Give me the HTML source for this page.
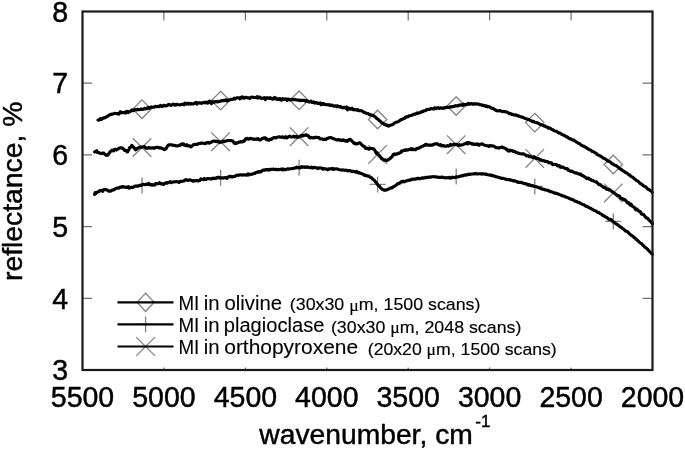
<!DOCTYPE html>
<html><head><meta charset="utf-8"><style>
html,body{margin:0;padding:0;background:#fff;width:685px;height:449px;overflow:hidden}
svg{display:block;will-change:transform;font-family:"Liberation Sans",sans-serif}
</style></head><body>
<svg width="685" height="449" viewBox="0 0 685 449">
<rect width="685" height="449" fill="#fff"/>
<path d="M82.5,83.2 L92.0,83.2 M652.5,83.2 L642.5,83.2 M82.5,154.9 L92.0,154.9 M652.5,154.9 L642.5,154.9 M82.5,226.6 L92.0,226.6 M652.5,226.6 L642.5,226.6 M82.5,298.3 L92.0,298.3 M652.5,298.3 L642.5,298.3 M163.9,11.5 L163.9,20.5 M163.9,370.0 L163.9,367.5 M245.4,11.5 L245.4,20.5 M245.4,370.0 L245.4,367.5 M326.8,11.5 L326.8,20.5 M326.8,370.0 L326.8,367.5 M408.2,11.5 L408.2,20.5 M408.2,370.0 L408.2,367.5 M489.6,11.5 L489.6,20.5 M489.6,370.0 L489.6,367.5 M571.1,11.5 L571.1,20.5 M571.1,370.0 L571.1,367.5" stroke="#707070" stroke-width="1.2" fill="none"/>
<path d="M142.0,99.9 L151.2,109.2 L142.0,118.5 L132.8,109.2 Z M220.6,91.3 L229.8,100.6 L220.6,109.9 L211.4,100.6 Z M299.1,91.0 L308.3,100.3 L299.1,109.6 L289.9,100.3 Z M377.6,110.2 L386.8,119.5 L377.6,128.8 L368.4,119.5 Z M456.2,96.7 L465.4,106.0 L456.2,115.3 L447.0,106.0 Z M534.8,113.3 L544.0,122.6 L534.8,131.9 L525.5,122.6 Z M613.3,155.2 L622.5,164.5 L613.3,173.8 L604.1,164.5 Z M132.7,138.2 L151.3,156.8 M132.7,156.8 L151.3,138.2 M211.2,132.4 L229.9,151.0 M211.2,151.0 L229.9,132.4 M289.8,127.4 L308.4,146.0 M289.8,146.0 L308.4,127.4 M368.3,145.1 L386.9,163.7 M368.3,163.7 L386.9,145.1 M446.9,135.4 L465.5,154.0 M446.9,154.0 L465.5,135.4 M525.5,149.1 L544.0,167.7 M525.5,167.7 L544.0,149.1 M604.0,183.6 L622.6,202.2 M604.0,202.2 L622.6,183.6 M142.0,177.4 L142.0,193.4 M134.0,185.4 L150.0,185.4 M220.6,169.8 L220.6,185.8 M212.6,177.8 L228.6,177.8 M299.1,159.7 L299.1,175.7 M291.1,167.7 L307.1,167.7 M377.6,176.4 L377.6,192.4 M369.6,184.4 L385.6,184.4 M456.2,168.5 L456.2,184.5 M448.2,176.5 L464.2,176.5 M534.8,178.4 L534.8,194.4 M526.8,186.4 L542.8,186.4 M613.3,213.4 L613.3,229.4 M605.3,221.4 L621.3,221.4" fill="none" stroke="#838383" stroke-width="1.3"/>
<path d="M98.0,120.04 L98.6,120.19 L99.4,119.75 L100.3,118.61 L101.4,119.36 L102.5,118.73 L103.6,117.82 L104.6,117.94 L105.5,117.45 L106.4,116.96 L107.3,116.33 L108.2,116.08 L109.1,114.94 L110.1,114.77 L111.0,114.21 L111.9,114.43 L112.8,113.93 L113.7,113.62 L114.6,113.28 L115.6,113.50 L116.5,113.60 L117.4,113.42 L118.3,114.14 L119.2,113.89 L120.1,111.89 L121.0,112.13 L121.9,112.80 L122.8,112.49 L123.8,112.60 L124.7,112.40 L125.6,113.15 L126.5,111.34 L127.4,111.52 L128.3,112.54 L129.2,111.64 L130.2,111.46 L131.1,110.68 L132.0,109.93 L132.9,110.66 L133.8,110.46 L134.7,109.64 L135.6,109.76 L136.5,109.93 L137.5,109.37 L138.4,109.66 L139.3,109.63 L140.2,109.46 L141.1,109.04 L142.0,109.44 L142.9,109.43 L143.8,108.98 L144.8,108.25 L145.7,108.86 L146.6,108.07 L147.5,108.60 L148.4,107.47 L149.3,108.30 L150.2,107.68 L151.1,106.91 L152.1,107.23 L153.0,107.26 L153.9,107.22 L154.8,106.45 L155.7,106.25 L156.6,106.77 L157.5,106.30 L158.4,106.52 L159.3,106.66 L160.3,105.33 L161.2,106.16 L162.1,106.53 L163.0,105.65 L163.9,105.28 L164.8,105.95 L165.7,105.60 L166.7,105.81 L167.6,105.09 L168.5,104.43 L169.4,105.03 L170.3,104.78 L171.2,105.32 L172.1,104.97 L173.0,104.01 L174.0,104.18 L174.9,105.17 L175.8,105.03 L176.7,104.33 L177.6,104.60 L178.5,104.78 L179.4,104.74 L180.3,104.90 L181.2,104.55 L182.2,104.32 L183.1,104.19 L184.0,104.79 L184.9,103.07 L185.8,104.05 L186.7,104.06 L187.7,103.24 L188.6,104.02 L189.5,103.44 L190.5,104.10 L191.4,103.52 L192.3,103.84 L193.2,104.04 L194.1,103.55 L195.0,102.86 L196.0,102.48 L196.9,104.06 L197.8,103.06 L198.7,102.72 L199.6,103.07 L200.5,102.84 L201.4,103.30 L202.3,102.83 L203.2,102.75 L204.2,102.32 L205.1,102.85 L206.0,102.04 L206.9,102.84 L207.8,103.21 L208.7,101.65 L209.6,101.14 L210.6,102.64 L211.5,103.56 L212.4,101.73 L213.3,101.55 L214.2,102.39 L215.1,101.58 L216.0,101.64 L216.9,101.60 L217.8,101.91 L218.8,101.31 L219.7,101.51 L220.6,101.15 L221.5,100.68 L222.4,100.81 L223.3,100.37 L224.2,100.72 L225.2,100.02 L226.1,99.90 L227.0,101.04 L227.9,100.13 L228.8,99.97 L229.7,100.06 L230.6,99.40 L231.5,99.28 L232.5,99.38 L233.4,99.09 L234.3,98.17 L235.2,98.98 L236.1,98.12 L237.0,97.76 L237.9,97.73 L238.8,97.90 L239.8,98.84 L240.7,97.38 L241.6,97.99 L242.5,96.79 L243.4,97.80 L244.3,98.19 L245.2,97.55 L246.1,97.30 L247.1,97.67 L248.0,97.85 L248.9,97.79 L249.8,98.41 L250.7,97.51 L251.6,97.10 L252.5,97.34 L253.4,97.38 L254.3,97.50 L255.3,97.46 L256.2,97.60 L257.1,96.72 L258.0,98.02 L258.9,97.36 L259.8,97.12 L260.7,98.09 L261.6,98.49 L262.6,98.15 L263.5,98.05 L264.4,97.57 L265.3,99.54 L266.2,98.60 L267.1,97.66 L268.0,97.90 L268.9,98.39 L269.9,97.64 L270.8,98.56 L271.7,98.31 L272.6,99.21 L273.5,99.14 L274.4,97.37 L275.4,98.81 L276.3,98.05 L277.2,99.47 L278.2,99.07 L279.1,99.32 L280.0,98.57 L280.9,100.07 L281.8,100.22 L282.7,98.72 L283.7,99.49 L284.6,99.02 L285.5,99.39 L286.4,98.82 L287.3,100.43 L288.2,99.06 L289.1,99.45 L290.0,99.89 L291.0,99.36 L291.9,99.62 L292.8,99.51 L293.7,99.78 L294.6,99.32 L295.5,99.74 L296.4,99.92 L297.3,99.92 L298.2,100.18 L299.2,100.08 L300.1,100.68 L301.0,100.24 L301.9,100.44 L302.8,100.29 L303.7,100.49 L304.6,100.27 L305.5,101.31 L306.5,100.64 L307.4,101.00 L308.3,101.72 L309.2,101.90 L310.1,101.67 L311.0,101.04 L311.9,102.43 L312.9,102.54 L313.8,101.88 L314.7,103.15 L315.6,102.58 L316.5,102.53 L317.4,103.30 L318.3,103.30 L319.2,103.63 L320.1,102.86 L321.1,104.71 L322.0,103.63 L322.9,103.30 L323.8,104.51 L324.7,104.16 L325.6,104.63 L326.5,104.43 L327.5,104.70 L328.4,104.98 L329.3,104.63 L330.2,105.49 L331.1,105.07 L332.0,105.04 L332.9,105.70 L333.8,106.07 L334.8,105.93 L335.7,105.81 L336.6,106.74 L337.5,105.74 L338.4,106.28 L339.3,106.98 L340.2,106.44 L341.1,107.28 L342.0,107.38 L343.0,108.01 L343.9,107.24 L344.8,107.54 L345.7,108.17 L346.6,106.93 L347.5,109.87 L348.4,108.13 L349.4,108.27 L350.3,109.23 L351.2,108.95 L352.1,108.24 L353.0,109.61 L353.9,109.89 L354.9,109.41 L355.9,109.67 L356.8,110.22 L357.8,109.71 L358.7,110.56 L359.5,110.62 L360.3,110.50 L361.3,110.60 L362.2,111.29 L363.0,111.44 L363.7,112.36 L364.5,112.44 L365.4,112.97 L366.2,113.12 L367.1,113.49 L368.0,113.52 L368.9,114.30 L369.8,114.97 L370.7,114.66 L371.6,114.90 L372.5,115.41 L373.4,115.76 L374.3,116.21 L375.2,117.04 L376.0,117.55 L376.9,118.73 L377.8,119.00 L378.7,119.86 L379.6,120.89 L380.5,121.37 L381.4,122.71 L382.3,122.81 L383.2,123.40 L384.1,124.13 L384.9,124.73 L385.8,124.78 L386.7,125.49 L387.6,125.17 L388.5,126.15 L389.4,125.67 L390.3,125.35 L391.2,125.03 L392.1,124.80 L393.0,124.31 L393.8,123.45 L394.7,122.87 L395.6,122.54 L396.5,121.97 L397.4,121.98 L398.3,121.61 L399.2,120.85 L400.1,120.54 L401.0,119.52 L401.9,119.62 L402.7,118.92 L403.6,118.59 L404.5,118.48 L405.4,117.04 L406.2,117.42 L407.1,116.64 L408.0,116.77 L409.0,115.81 L409.9,115.71 L410.8,115.56 L411.7,115.33 L412.6,114.82 L413.5,114.24 L414.4,114.03 L415.3,114.17 L416.2,113.63 L417.1,112.87 L417.9,113.38 L418.8,112.97 L419.7,112.82 L420.5,112.14 L421.4,112.16 L422.2,111.25 L423.1,111.39 L424.0,110.71 L424.9,110.71 L425.7,110.47 L426.6,109.64 L427.5,109.57 L428.4,109.35 L429.3,109.48 L430.1,109.15 L431.0,108.41 L431.9,108.78 L432.8,108.74 L433.7,109.05 L434.5,107.82 L435.4,108.09 L436.3,108.59 L437.2,107.74 L438.0,107.76 L438.9,108.24 L439.7,108.37 L440.6,107.82 L441.5,108.14 L442.4,107.96 L443.2,108.30 L444.1,107.76 L445.0,107.97 L445.9,107.29 L446.8,107.40 L447.6,107.31 L448.5,107.55 L449.4,107.26 L450.3,106.73 L451.2,107.02 L452.0,106.91 L452.9,106.51 L453.8,106.32 L454.7,106.20 L455.6,105.61 L456.4,106.02 L457.3,105.88 L458.2,105.39 L459.1,105.72 L459.9,104.92 L460.8,105.01 L461.6,104.87 L462.5,105.46 L463.4,104.23 L464.3,104.73 L465.2,104.72 L466.1,104.44 L466.9,104.60 L467.7,103.87 L468.4,103.43 L469.2,104.30 L470.0,103.66 L470.8,103.88 L471.7,103.58 L472.6,104.21 L473.5,104.12 L474.4,103.63 L475.3,104.12 L476.2,103.91 L477.0,103.91 L477.9,104.09 L478.8,104.17 L479.7,104.62 L480.5,104.76 L481.4,104.81 L482.2,105.45 L483.1,105.18 L484.0,105.63 L484.9,105.84 L485.7,106.32 L486.6,105.90 L487.5,106.80 L488.4,106.60 L489.3,106.83 L490.1,107.08 L491.0,107.90 L491.9,108.22 L492.8,108.36 L493.7,108.83 L494.5,109.43 L495.4,109.77 L496.3,110.58 L497.2,110.88 L498.0,110.86 L498.9,110.80 L499.7,110.64 L500.6,110.85 L501.5,111.20 L502.4,111.71 L503.2,111.52 L504.1,111.38 L505.0,111.71 L505.9,111.84 L506.8,112.03 L507.6,112.51 L508.5,112.91 L509.4,113.68 L510.3,113.42 L511.2,114.08 L512.0,114.47 L512.9,114.23 L513.8,114.95 L514.7,114.96 L515.6,114.90 L516.4,115.40 L517.3,115.62 L518.2,115.85 L519.1,116.15 L519.9,116.56 L520.8,116.90 L521.6,116.93 L522.5,117.41 L523.4,117.41 L524.3,118.09 L525.2,118.48 L526.1,118.71 L526.9,119.02 L527.7,119.37 L528.3,119.36 L529.0,119.70 L530.0,120.23 L530.7,120.61 L531.6,120.81 L532.5,121.60 L533.5,121.45 L534.5,122.07 L535.5,122.53 L536.5,122.65 L537.4,122.87 L538.3,123.17 L539.2,123.82 L540.1,124.39 L541.0,124.62 L542.0,124.99 L542.9,125.28 L543.8,125.87 L544.7,125.73 L545.6,126.60 L546.5,126.97 L547.4,127.10 L548.4,128.22 L549.3,127.92 L550.2,128.41 L551.1,128.80 L552.0,129.69 L552.9,129.72 L553.8,130.47 L554.8,130.89 L555.7,131.26 L556.6,131.39 L557.5,131.97 L558.4,132.88 L559.3,132.74 L560.2,133.29 L561.1,133.88 L562.0,134.53 L563.0,134.89 L563.9,135.45 L564.8,135.56 L565.7,136.44 L566.6,136.84 L567.5,136.89 L568.4,138.00 L569.4,138.64 L570.3,138.52 L571.2,139.18 L572.1,139.94 L573.0,139.87 L573.9,140.26 L574.8,140.91 L575.7,141.56 L576.6,142.07 L577.6,142.81 L578.5,143.26 L579.4,143.47 L580.3,144.35 L581.2,145.14 L582.1,145.52 L583.0,146.01 L583.9,146.34 L584.9,147.06 L585.8,147.20 L586.7,148.07 L587.6,148.44 L588.5,149.23 L589.5,149.65 L590.4,149.90 L591.4,150.71 L592.3,151.48 L593.2,151.55 L594.1,152.18 L594.9,152.62 L595.9,153.07 L596.8,154.12 L597.7,154.71 L598.5,155.10 L599.3,155.45 L600.0,155.83 L600.9,156.43 L601.6,156.67 L602.4,157.46 L603.4,158.12 L604.2,158.58 L605.0,158.82 L606.0,159.54 L607.0,160.11 L608.0,161.14 L609.0,161.46 L610.0,161.67 L611.0,162.74 L611.9,163.66 L612.9,164.04 L613.8,164.71 L614.8,165.17 L615.7,165.41 L616.7,166.08 L617.7,166.85 L618.7,167.75 L619.7,168.52 L620.7,169.27 L621.6,169.73 L622.6,170.62 L623.4,170.95 L624.4,171.59 L625.3,172.52 L626.1,172.75 L627.0,172.99 L628.0,174.03 L628.8,174.83 L629.7,174.80 L630.5,175.98 L631.5,176.64 L632.4,177.08 L633.3,177.74 L634.2,178.60 L635.1,179.23 L636.0,180.25 L636.9,180.73 L637.8,181.01 L638.7,181.81 L639.6,182.79 L640.5,183.69 L641.4,184.05 L642.3,184.71 L643.2,185.69 L644.1,185.98 L645.0,186.58 L645.8,187.01 L646.7,187.83 L647.7,189.15 L648.8,189.24 L649.9,190.34 L650.9,190.80 L651.7,191.73 L652.3,192.34" fill="none" stroke="#000" stroke-width="3.15" stroke-linejoin="round" stroke-linecap="round"/>
<path d="M94.6,151.97 L95.2,151.59 L96.0,151.47 L96.8,150.75 L97.5,152.47 L98.3,152.63 L99.0,152.49 L99.7,153.19 L100.4,153.32 L101.1,153.21 L101.8,153.65 L102.6,152.98 L103.3,152.98 L104.0,153.29 L104.8,154.42 L105.5,154.77 L106.2,155.32 L107.0,155.10 L107.7,155.14 L108.4,153.92 L109.2,153.26 L109.9,151.97 L110.6,151.35 L111.4,150.89 L112.1,150.05 L112.8,150.49 L113.6,150.88 L114.3,149.53 L115.0,149.41 L115.8,149.39 L116.5,149.99 L117.2,149.29 L118.0,149.04 L118.7,148.45 L119.4,148.01 L120.1,147.90 L120.8,147.74 L121.5,148.28 L122.3,147.90 L123.0,148.55 L123.7,149.31 L124.5,150.47 L125.2,150.13 L125.9,150.63 L126.7,151.36 L127.4,151.94 L128.1,150.69 L128.9,149.89 L129.6,147.54 L130.3,147.57 L131.1,146.62 L131.8,145.30 L132.5,146.11 L133.3,147.20 L134.0,147.53 L134.7,148.56 L135.5,149.77 L136.2,149.40 L136.9,148.91 L137.7,148.09 L138.4,148.03 L139.1,147.44 L139.8,147.26 L140.6,147.16 L141.5,147.36 L142.5,146.76 L143.5,146.66 L144.5,146.53 L145.4,148.04 L146.4,147.83 L147.4,148.36 L148.3,147.79 L149.3,147.54 L150.3,148.11 L151.2,148.11 L152.2,147.76 L153.2,147.71 L154.2,148.34 L155.2,147.62 L156.2,147.57 L157.1,147.33 L158.1,147.26 L159.1,147.98 L160.0,147.87 L161.0,147.93 L162.0,148.57 L163.0,148.76 L163.9,149.37 L164.7,149.56 L165.4,148.49 L166.1,148.70 L166.8,147.04 L167.5,146.20 L168.3,145.01 L169.2,144.86 L170.2,144.86 L171.2,144.75 L172.2,144.89 L173.1,145.28 L174.1,145.51 L175.1,145.36 L176.1,145.83 L177.1,145.94 L178.1,145.79 L179.0,145.23 L180.0,145.46 L181.0,144.36 L182.0,143.80 L182.9,144.56 L183.7,143.89 L184.3,145.18 L185.1,144.97 L186.0,145.56 L186.9,144.74 L187.9,145.81 L188.9,145.75 L189.8,145.84 L190.8,146.89 L191.8,146.21 L192.8,145.34 L193.8,144.54 L194.8,144.48 L195.7,144.23 L196.7,144.35 L197.7,144.19 L198.6,143.50 L199.6,143.41 L200.6,143.33 L201.5,142.99 L202.5,143.19 L203.5,143.28 L204.4,143.46 L205.4,143.56 L206.4,142.66 L207.4,142.96 L208.4,142.44 L209.4,143.21 L210.3,142.36 L211.3,142.38 L212.3,141.53 L213.2,141.17 L214.2,141.27 L215.2,141.10 L216.1,141.55 L217.1,141.05 L218.1,141.96 L219.0,141.53 L220.0,142.50 L221.0,141.75 L222.0,142.11 L223.0,141.11 L224.0,141.64 L224.9,141.06 L225.9,141.03 L226.9,140.93 L227.8,140.49 L228.8,140.49 L229.8,140.59 L230.7,140.61 L231.7,140.67 L232.7,141.06 L233.7,142.35 L234.6,143.33 L235.4,142.81 L236.1,143.64 L236.8,143.02 L237.5,142.63 L238.2,142.58 L239.0,142.13 L239.9,141.93 L241.0,141.59 L241.9,142.01 L242.7,141.73 L243.4,140.87 L244.1,141.07 L244.8,140.30 L245.5,138.79 L246.3,139.04 L247.2,138.33 L248.2,139.10 L249.2,138.98 L250.2,138.38 L251.2,138.59 L252.2,139.04 L253.2,138.93 L254.1,139.52 L255.1,139.26 L256.1,138.98 L257.0,139.38 L258.0,138.59 L259.0,139.63 L259.9,140.06 L260.9,139.64 L261.9,138.78 L262.9,138.28 L263.8,138.19 L264.6,137.71 L265.3,137.77 L266.0,139.21 L266.7,138.59 L267.4,139.99 L268.2,139.90 L269.1,140.23 L270.1,139.14 L271.1,139.46 L272.1,138.82 L273.1,137.87 L274.1,137.51 L275.1,137.75 L276.0,137.95 L277.0,137.24 L278.0,137.02 L278.9,136.77 L279.9,137.06 L280.9,137.02 L281.9,137.16 L282.9,136.86 L283.9,137.66 L284.8,137.72 L285.8,136.74 L286.8,137.89 L287.8,137.17 L288.8,136.63 L289.8,136.10 L290.7,137.02 L291.7,137.00 L292.7,136.61 L293.6,136.20 L294.6,137.19 L295.6,136.49 L296.5,136.38 L297.5,137.40 L298.5,137.04 L299.4,136.53 L300.4,135.94 L301.4,136.23 L302.4,135.12 L303.4,135.84 L304.4,135.35 L305.4,134.95 L306.3,134.75 L307.1,135.51 L307.9,135.49 L308.5,135.86 L309.2,137.35 L309.9,137.90 L310.5,137.84 L311.3,137.41 L312.1,137.68 L313.0,137.94 L314.0,137.50 L315.0,137.72 L316.0,137.12 L317.0,137.47 L318.0,137.53 L319.0,137.61 L319.9,139.02 L320.9,139.00 L321.9,138.82 L322.8,139.22 L323.8,139.68 L324.8,139.11 L325.7,139.49 L326.7,138.55 L327.7,138.43 L328.6,137.70 L329.6,137.63 L330.6,137.49 L331.6,137.79 L332.6,138.36 L333.6,138.69 L334.5,139.02 L335.5,139.32 L336.5,139.98 L337.4,139.86 L338.4,139.61 L339.4,140.09 L340.3,139.73 L341.3,140.61 L342.3,140.37 L343.2,139.76 L344.2,140.66 L345.2,141.13 L346.2,140.46 L347.2,141.34 L348.2,140.88 L349.1,139.47 L350.1,139.33 L351.1,139.82 L352.0,141.23 L353.0,142.01 L354.0,143.49 L354.9,143.05 L355.9,144.00 L356.9,143.69 L357.9,143.60 L358.8,142.99 L359.7,142.75 L360.5,143.33 L361.3,144.29 L362.2,145.25 L362.9,145.59 L363.7,146.36 L364.5,146.61 L365.2,148.00 L366.0,148.41 L366.7,148.11 L367.4,148.52 L368.2,148.31 L368.9,149.21 L369.6,148.72 L370.4,148.34 L371.1,148.44 L371.9,148.56 L372.6,148.50 L373.4,148.67 L374.1,149.43 L374.9,150.26 L375.6,151.96 L376.3,153.33 L377.1,152.65 L377.8,154.05 L378.5,155.03 L379.3,155.47 L380.0,156.77 L380.8,157.12 L381.5,158.66 L382.3,158.69 L383.0,159.51 L383.8,160.21 L384.5,160.15 L385.2,159.81 L386.0,160.23 L386.7,160.57 L387.4,160.09 L388.2,159.91 L388.9,159.02 L389.7,158.82 L390.4,158.24 L391.2,157.21 L391.9,157.06 L392.7,155.49 L393.4,154.54 L394.1,153.92 L394.9,154.64 L395.6,153.98 L396.3,154.10 L397.1,153.68 L397.8,153.87 L398.6,153.59 L399.3,152.87 L400.1,152.80 L400.8,152.47 L401.6,150.89 L402.3,151.21 L403.0,150.75 L403.8,150.44 L404.5,149.93 L405.2,150.32 L406.0,149.86 L406.7,150.24 L407.5,149.85 L408.2,149.81 L409.0,149.31 L409.7,149.36 L410.5,149.57 L411.2,148.73 L411.9,149.67 L412.7,148.87 L413.4,148.99 L414.1,149.77 L414.9,149.72 L415.7,149.60 L416.4,148.52 L417.2,148.63 L418.0,148.24 L418.8,148.24 L419.8,147.38 L420.7,147.30 L421.7,146.45 L422.7,146.29 L423.7,145.65 L424.6,145.50 L425.4,144.49 L426.1,144.29 L426.8,144.70 L427.5,145.22 L428.2,144.93 L429.0,145.13 L429.9,145.00 L430.9,145.36 L431.9,144.90 L432.9,145.06 L433.8,144.35 L434.8,143.78 L435.8,143.89 L436.7,143.83 L437.7,143.90 L438.7,145.01 L439.7,145.11 L440.7,144.64 L441.7,145.92 L442.6,145.60 L443.6,145.43 L444.6,146.18 L445.5,146.26 L446.5,146.12 L447.5,145.61 L448.4,146.05 L449.4,145.81 L450.4,144.46 L451.3,145.23 L452.3,144.98 L453.3,144.38 L454.3,144.46 L455.3,144.34 L456.3,144.30 L457.2,144.68 L458.2,145.47 L459.2,144.59 L460.1,145.20 L461.1,145.15 L462.1,144.73 L463.1,144.62 L464.0,143.95 L464.8,143.76 L465.5,143.69 L466.2,143.44 L466.9,142.71 L467.6,143.89 L468.4,142.56 L469.3,142.95 L470.3,143.16 L471.3,143.43 L472.3,144.25 L473.2,143.75 L474.2,144.48 L475.2,144.51 L476.2,143.83 L477.2,144.62 L478.2,144.06 L479.1,145.26 L480.1,144.20 L481.1,144.08 L482.0,143.90 L483.0,144.40 L484.0,145.04 L484.9,145.31 L485.9,145.51 L486.9,145.76 L487.8,145.84 L488.8,146.35 L489.8,145.27 L490.8,145.82 L491.8,145.87 L492.8,145.89 L493.7,146.23 L494.7,146.66 L495.7,147.60 L496.7,147.63 L497.6,147.70 L498.5,148.12 L499.3,147.88 L500.2,147.50 L501.1,147.50 L502.0,146.95 L502.9,147.55 L503.8,147.88 L504.8,148.17 L505.8,148.52 L506.8,150.00 L507.8,149.89 L508.8,151.19 L509.8,150.06 L510.7,150.72 L511.7,150.46 L512.7,151.00 L513.6,151.57 L514.6,151.40 L515.6,152.04 L516.5,152.49 L517.5,152.78 L518.5,153.20 L519.4,153.56 L520.4,153.80 L521.4,153.81 L522.4,153.86 L523.4,153.88 L524.4,154.46 L525.3,154.97 L526.3,155.90 L527.3,155.76 L528.2,155.66 L529.2,156.77 L530.2,156.38 L531.1,156.64 L532.1,157.13 L533.1,157.69 L534.0,156.66 L535.0,157.51 L536.0,158.39 L537.0,158.45 L538.0,158.53 L539.0,158.97 L539.9,160.15 L540.9,159.64 L541.9,160.48 L542.8,160.83 L543.8,160.59 L544.8,161.31 L545.7,161.23 L546.7,161.49 L547.7,161.58 L548.6,162.81 L549.6,162.57 L550.6,162.85 L551.6,162.94 L552.6,164.61 L553.6,164.48 L554.5,164.43 L555.5,164.52 L556.5,164.49 L557.4,165.67 L558.4,166.02 L559.4,165.61 L560.3,167.13 L561.3,167.32 L562.3,166.91 L563.2,167.46 L564.2,167.89 L565.2,168.55 L566.2,168.81 L567.2,168.53 L568.2,170.32 L569.1,170.19 L570.1,171.01 L571.1,171.40 L572.0,171.15 L573.0,171.80 L574.0,172.39 L574.9,172.81 L575.9,172.81 L576.9,173.03 L577.8,173.74 L578.8,173.80 L579.8,174.35 L580.8,174.15 L581.8,175.55 L582.8,175.50 L583.7,176.16 L584.7,176.84 L585.7,177.47 L586.6,178.64 L587.6,178.35 L588.6,178.10 L589.5,179.27 L590.5,179.42 L591.5,180.36 L592.4,180.36 L593.4,180.85 L594.4,181.44 L595.4,181.91 L596.4,181.92 L597.3,182.91 L598.2,183.69 L599.1,184.74 L600.0,184.57 L600.8,184.97 L601.5,185.80 L602.3,186.25 L603.4,187.34 L604.2,187.32 L605.0,187.56 L606.0,188.73 L607.0,189.41 L608.0,189.11 L609.0,190.01 L610.0,189.78 L611.0,190.96 L611.9,191.32 L612.9,192.22 L613.8,192.71 L614.8,193.47 L615.7,194.12 L616.7,195.02 L617.7,195.53 L618.6,195.82 L619.6,196.14 L620.5,197.93 L621.5,198.67 L622.4,198.49 L623.4,199.62 L624.4,199.36 L625.3,200.03 L626.3,201.30 L627.2,202.79 L628.2,202.36 L629.1,203.17 L630.1,204.99 L631.1,204.14 L632.0,206.02 L633.0,206.69 L633.9,207.13 L634.9,208.06 L635.8,209.92 L636.8,209.00 L637.7,210.13 L638.7,210.94 L639.6,211.52 L640.6,212.01 L641.5,214.12 L642.5,214.31 L643.4,214.23 L644.4,215.57 L645.4,216.99 L646.5,217.93 L647.5,218.03 L648.5,219.51 L649.4,220.46 L650.1,221.19 L651.2,222.25 L651.9,221.86 L652.3,223.89" fill="none" stroke="#000" stroke-width="3.15" stroke-linejoin="round" stroke-linecap="round"/>
<path d="M94.6,194.45 L95.1,192.65 L95.9,193.27 L96.8,192.38 L97.7,191.92 L98.7,191.58 L99.7,190.56 L100.7,190.80 L101.6,190.18 L102.6,191.29 L103.6,189.90 L104.5,189.52 L105.5,189.58 L106.5,189.78 L107.5,190.18 L108.4,190.80 L109.2,191.28 L109.9,191.03 L110.8,191.21 L111.8,190.30 L112.8,189.84 L113.8,189.93 L114.7,189.18 L115.7,188.44 L116.7,188.19 L117.7,188.10 L118.7,188.28 L119.7,187.24 L120.6,187.02 L121.6,187.30 L122.6,186.57 L123.5,186.77 L124.5,187.22 L125.5,187.18 L126.4,187.12 L127.4,187.51 L128.4,186.56 L129.3,188.18 L130.3,187.58 L131.3,187.15 L132.3,187.45 L133.3,187.21 L134.3,186.51 L135.2,186.04 L136.2,186.19 L137.2,185.91 L138.1,186.16 L139.1,185.67 L140.1,185.22 L141.0,185.31 L142.0,184.66 L143.0,184.26 L143.9,184.69 L144.9,184.61 L145.9,184.27 L146.9,184.04 L147.9,184.42 L148.9,183.54 L149.8,184.79 L150.8,184.92 L151.8,184.43 L152.7,185.22 L153.7,184.84 L154.7,185.10 L155.6,183.60 L156.6,183.49 L157.6,183.72 L158.5,183.71 L159.5,182.59 L160.5,183.42 L161.5,184.05 L162.5,183.88 L163.5,184.51 L164.4,183.21 L165.4,183.38 L166.4,182.59 L167.3,183.21 L168.3,182.53 L169.3,182.28 L170.2,181.69 L171.2,182.72 L172.2,182.16 L173.1,181.92 L174.1,181.95 L175.1,181.79 L176.1,181.69 L177.1,181.80 L178.1,181.81 L179.0,182.45 L180.0,181.28 L181.0,181.37 L181.9,181.23 L182.9,181.16 L183.8,181.03 L184.8,180.13 L185.8,179.70 L186.6,180.12 L187.5,180.40 L188.4,180.14 L189.4,179.98 L190.2,179.93 L191.1,180.38 L192.0,180.47 L192.9,181.07 L193.8,180.62 L194.7,180.92 L195.5,180.69 L196.4,180.72 L197.2,180.40 L198.1,181.02 L199.0,180.50 L199.9,180.36 L200.7,179.00 L201.6,179.49 L202.5,179.30 L203.4,179.61 L204.3,178.54 L205.1,179.68 L206.0,179.56 L206.9,178.63 L207.8,178.62 L208.7,178.55 L209.5,178.70 L210.4,178.77 L211.3,179.13 L212.2,178.22 L213.1,178.45 L213.9,178.13 L214.8,178.60 L215.7,178.16 L216.6,178.29 L217.4,177.36 L218.3,177.60 L219.1,177.35 L220.0,178.17 L220.9,177.95 L221.8,177.72 L222.6,177.79 L223.5,178.20 L224.4,177.77 L225.3,177.56 L226.2,177.84 L227.0,178.27 L227.9,177.07 L228.8,176.76 L229.7,176.43 L230.6,176.31 L231.4,176.91 L232.3,176.96 L233.2,176.55 L234.1,176.48 L235.0,176.17 L235.8,175.92 L236.7,175.10 L237.6,175.28 L238.5,175.33 L239.3,174.92 L240.2,174.95 L241.0,174.77 L241.9,174.88 L242.8,175.24 L243.7,174.74 L244.5,174.77 L245.4,175.05 L246.3,174.93 L247.2,175.24 L248.1,173.86 L248.9,174.82 L249.8,174.25 L250.7,174.30 L251.6,174.32 L252.5,174.13 L253.3,173.80 L254.2,173.17 L255.1,173.38 L256.0,172.44 L256.9,172.23 L257.7,172.30 L258.6,171.56 L259.5,172.23 L260.4,171.53 L261.2,171.62 L262.1,170.54 L262.9,170.14 L263.8,170.11 L264.7,170.14 L265.6,169.56 L266.4,169.83 L267.3,169.64 L268.2,170.18 L269.1,169.36 L270.0,169.96 L270.8,169.38 L271.7,169.26 L272.6,169.32 L273.5,169.10 L274.4,169.48 L275.2,169.70 L276.1,169.32 L277.0,169.46 L277.9,169.84 L278.8,169.44 L279.6,169.51 L280.5,169.43 L281.4,169.00 L282.3,169.83 L283.1,168.91 L283.9,169.70 L284.8,169.39 L285.8,169.70 L286.7,169.20 L287.7,168.85 L288.7,169.16 L289.7,168.73 L290.7,168.75 L291.7,168.70 L292.7,168.51 L293.6,168.34 L294.6,167.96 L295.6,168.03 L296.5,167.20 L297.5,167.75 L298.5,167.26 L299.5,167.94 L300.4,167.88 L301.4,166.65 L302.4,167.31 L303.4,167.18 L304.4,166.85 L305.3,167.43 L306.3,167.14 L307.3,166.75 L308.2,167.34 L309.2,167.44 L310.2,167.58 L311.1,167.17 L312.1,167.86 L313.1,167.95 L314.0,167.34 L315.0,167.57 L316.0,167.83 L317.0,167.71 L317.9,168.58 L318.9,168.11 L319.9,167.76 L320.9,167.94 L321.9,168.32 L322.8,169.29 L323.8,168.58 L324.8,168.83 L325.7,169.08 L326.7,168.95 L327.7,169.77 L328.7,168.75 L329.7,169.12 L330.6,168.84 L331.6,168.95 L332.6,168.32 L333.6,169.39 L334.5,168.80 L335.5,168.96 L336.5,168.73 L337.4,168.93 L338.4,169.50 L339.4,169.76 L340.3,169.79 L341.3,170.07 L342.3,170.01 L343.2,169.89 L344.2,170.29 L345.2,170.31 L346.2,170.18 L347.1,170.58 L348.1,170.89 L349.1,170.65 L350.1,170.59 L351.1,171.13 L352.1,171.74 L353.1,171.21 L354.1,171.47 L355.0,171.66 L355.9,172.33 L356.9,171.51 L357.8,172.52 L358.6,173.03 L359.3,172.54 L360.0,173.30 L360.9,173.41 L361.5,173.48 L362.2,173.94 L363.0,173.97 L363.7,174.56 L364.5,175.37 L365.2,175.02 L366.0,175.69 L366.7,175.48 L367.4,175.95 L368.2,176.05 L368.9,175.95 L369.6,176.73 L370.4,177.39 L371.1,177.67 L371.9,178.19 L372.6,179.13 L373.4,179.57 L374.1,180.05 L374.9,180.98 L375.6,182.07 L376.3,182.67 L377.1,183.87 L377.8,184.91 L378.5,185.54 L379.3,186.23 L380.0,187.04 L380.8,188.02 L381.5,188.84 L382.3,189.25 L383.0,189.75 L383.8,189.89 L384.5,190.26 L385.2,190.19 L386.0,190.18 L386.7,189.84 L387.4,189.50 L388.2,189.32 L388.9,188.78 L389.7,188.37 L390.4,188.25 L391.2,187.68 L391.9,187.97 L392.7,187.30 L393.4,186.67 L394.1,186.56 L394.9,186.03 L395.6,185.36 L396.3,185.26 L397.1,184.42 L397.8,183.49 L398.6,183.75 L399.3,182.95 L400.1,182.90 L400.8,182.03 L401.6,181.53 L402.3,181.81 L403.0,181.21 L403.8,181.52 L404.5,181.79 L405.2,181.24 L406.0,181.01 L406.7,180.84 L407.5,180.76 L408.2,180.20 L409.0,180.25 L409.7,180.02 L410.5,180.17 L411.2,179.46 L411.9,179.18 L412.7,179.38 L413.4,179.04 L414.2,179.08 L414.9,178.97 L415.7,179.10 L416.4,178.68 L417.1,178.73 L417.9,178.16 L418.7,178.42 L419.6,178.82 L420.6,178.26 L421.7,178.11 L422.5,177.89 L423.5,178.10 L424.5,177.85 L425.5,177.40 L426.5,177.59 L427.5,177.34 L428.5,177.29 L429.5,176.89 L430.5,177.26 L431.4,176.92 L432.4,176.77 L433.4,176.68 L434.4,176.75 L435.3,177.02 L436.3,176.85 L437.3,177.20 L438.2,177.18 L439.2,177.42 L440.2,177.40 L441.1,177.31 L442.1,177.02 L443.1,177.54 L444.0,177.72 L445.0,177.67 L446.0,177.83 L447.0,177.69 L448.0,177.76 L448.9,177.68 L449.9,178.14 L450.9,177.86 L451.9,177.65 L452.8,177.37 L453.8,177.45 L454.8,177.59 L455.7,177.19 L456.7,176.73 L457.7,176.93 L458.7,176.69 L459.6,176.35 L460.6,176.08 L461.6,175.92 L462.6,175.58 L463.6,175.42 L464.5,174.92 L465.5,175.20 L466.5,174.78 L467.4,174.98 L468.4,174.02 L469.4,174.44 L470.3,174.37 L471.3,173.99 L472.3,174.05 L473.2,174.02 L474.2,173.92 L475.2,173.64 L476.2,173.69 L477.1,173.91 L478.1,173.97 L479.1,173.76 L480.1,173.80 L481.1,173.88 L482.0,174.12 L483.0,173.79 L484.0,173.84 L484.9,174.25 L485.9,174.13 L486.9,174.39 L487.9,174.69 L488.9,174.95 L489.8,174.84 L490.8,175.44 L491.8,175.16 L492.8,175.90 L493.8,175.77 L494.9,176.14 L495.8,176.83 L496.8,176.89 L497.6,177.05 L498.6,177.39 L499.4,177.77 L500.1,177.85 L501.0,178.06 L501.9,178.47 L502.8,178.31 L503.7,178.56 L504.7,178.75 L505.8,179.29 L506.7,179.42 L507.7,179.66 L508.7,179.59 L509.7,179.77 L510.7,180.19 L511.7,180.17 L512.7,180.64 L513.6,180.86 L514.6,180.82 L515.6,181.19 L516.5,181.44 L517.5,182.07 L518.5,182.50 L519.5,182.22 L520.5,182.51 L521.4,182.32 L522.4,183.08 L523.4,183.31 L524.4,183.36 L525.3,184.00 L526.3,183.79 L527.3,184.32 L528.2,184.65 L529.2,184.64 L530.2,185.33 L531.1,185.64 L532.1,185.42 L533.1,185.69 L534.0,186.37 L535.0,186.53 L536.0,186.57 L537.0,187.05 L538.0,187.38 L538.9,187.66 L539.9,188.16 L540.9,188.37 L541.9,188.94 L542.8,189.16 L543.8,189.33 L544.8,189.71 L545.7,190.07 L546.7,190.26 L547.7,190.19 L548.7,190.93 L549.6,191.10 L550.6,191.74 L551.6,191.77 L552.6,192.19 L553.6,192.49 L554.5,193.10 L555.5,193.14 L556.5,193.39 L557.4,193.86 L558.4,194.06 L559.4,194.54 L560.3,194.86 L561.3,195.28 L562.3,195.98 L563.2,195.88 L564.2,196.35 L565.2,196.69 L566.2,197.26 L567.2,197.30 L568.2,197.80 L569.2,198.33 L570.1,198.83 L571.1,199.15 L572.1,199.48 L573.1,199.81 L574.0,200.50 L575.0,201.11 L576.0,201.32 L577.0,201.74 L578.0,202.25 L579.0,202.43 L580.0,203.02 L581.0,203.50 L582.0,204.08 L583.0,204.50 L584.0,204.74 L585.0,205.70 L586.0,206.30 L587.0,206.40 L587.9,207.02 L588.9,207.51 L590.0,208.17 L590.9,208.20 L591.9,209.33 L592.9,209.45 L593.9,210.34 L594.9,210.67 L596.0,211.16 L596.9,211.72 L597.9,212.46 L598.8,212.66 L599.8,213.32 L600.8,213.86 L601.7,214.19 L602.7,215.37 L603.7,215.80 L604.6,216.26 L605.6,217.09 L606.5,217.26 L607.5,218.04 L608.4,219.01 L609.4,219.47 L610.3,219.44 L611.3,219.83 L612.2,220.91 L613.2,221.96 L614.1,222.29 L615.1,222.98 L616.0,223.80 L617.0,224.16 L617.9,225.05 L618.9,225.84 L619.8,226.47 L620.8,227.14 L621.7,227.65 L622.7,228.58 L623.7,229.10 L624.6,230.17 L625.6,231.15 L626.5,231.23 L627.5,231.68 L628.4,232.78 L629.4,233.69 L630.4,234.60 L631.4,235.40 L632.3,235.84 L633.3,236.64 L634.3,237.84 L635.2,238.12 L636.0,239.26 L637.0,239.88 L638.0,240.87 L638.8,241.60 L639.6,242.35 L640.5,243.12 L641.4,243.54 L642.3,244.59 L643.1,245.33 L644.0,246.19 L644.9,247.19 L645.8,247.75 L646.8,248.55 L647.7,249.44 L648.6,250.38 L649.4,251.36 L650.6,252.21 L651.6,253.60 L652.3,254.12" fill="none" stroke="#000" stroke-width="3.15" stroke-linejoin="round" stroke-linecap="round"/>
<rect x="82.5" y="11.5" width="570.0" height="358.5" fill="none" stroke="#1a1a1a" stroke-width="2.2"/>
<path d="M145.6,293.1 L154.1,302.3 L145.6,311.5 L137.1,302.3 Z M145.6,316.6 L145.6,332.2 M137.8,324.4 L153.4,324.4 M136.2,337.1 L155.0,355.9 M136.2,355.9 L155.0,337.1" fill="none" stroke="#838383" stroke-width="1.3"/>
<path d="M117.5,302.3 L173.5,302.3 M117.5,324.4 L173.5,324.4 M117.5,346.5 L173.5,346.5" stroke="#000" stroke-width="2.2"/>
<g font-family="Liberation Sans, sans-serif" fill="#000" stroke="#000" stroke-width="0.45">
<text transform="translate(60.2,21.7) scale(1,1.03)" font-size="28.5" text-anchor="middle">8</text>
<text transform="translate(60.2,93.4) scale(1,1.03)" font-size="28.5" text-anchor="middle">7</text>
<text transform="translate(60.2,165.1) scale(1,1.03)" font-size="28.5" text-anchor="middle">6</text>
<text transform="translate(60.2,236.8) scale(1,1.03)" font-size="28.5" text-anchor="middle">5</text>
<text transform="translate(60.2,308.5) scale(1,1.03)" font-size="28.5" text-anchor="middle">4</text>
<text transform="translate(60.2,380.2) scale(1,1.03)" font-size="28.5" text-anchor="middle">3</text>
<text transform="translate(82.5,406.6) scale(1,1.03)" font-size="28.5" text-anchor="middle">5500</text>
<text transform="translate(163.9,406.6) scale(1,1.03)" font-size="28.5" text-anchor="middle">5000</text>
<text transform="translate(245.4,406.6) scale(1,1.03)" font-size="28.5" text-anchor="middle">4500</text>
<text transform="translate(326.8,406.6) scale(1,1.03)" font-size="28.5" text-anchor="middle">4000</text>
<text transform="translate(408.2,406.6) scale(1,1.03)" font-size="28.5" text-anchor="middle">3500</text>
<text transform="translate(489.6,406.6) scale(1,1.03)" font-size="28.5" text-anchor="middle">3000</text>
<text transform="translate(571.1,406.6) scale(1,1.03)" font-size="28.5" text-anchor="middle">2500</text>
<text transform="translate(652.5,406.6) scale(1,1.03)" font-size="28.5" text-anchor="middle">2000</text>
<text x="259.3" y="443.8" font-size="28.2" textLength="213.5" lengthAdjust="spacingAndGlyphs">wavenumber, cm</text>
<text x="475.3" y="427.2" font-size="17">-1</text>
<text transform="translate(22,281) rotate(-90)" font-size="28.3">reflectance, %</text>
<g stroke-width="0.1">
<text x="178.46" y="309.8" font-size="19.5" textLength="20.83" lengthAdjust="spacingAndGlyphs">MI</text>
<text x="203.84" y="309.8" font-size="19.5" textLength="15.90" lengthAdjust="spacingAndGlyphs">in</text>
<text x="224.47" y="309.8" font-size="19.5" textLength="57.65" lengthAdjust="spacingAndGlyphs">olivine</text>
</g>
<text stroke-width="0.15" x="289.85" y="310.40000000000003" font-size="17" textLength="190.61" lengthAdjust="spacingAndGlyphs">(30x30 <tspan font-family="Liberation Serif, serif" dy="0.6">μ</tspan><tspan dy="-0.6">m, 1500 scans)</tspan></text>
<g stroke-width="0.1">
<text x="178.46" y="331.9" font-size="19.5" textLength="20.83" lengthAdjust="spacingAndGlyphs">MI</text>
<text x="203.84" y="331.9" font-size="19.5" textLength="15.90" lengthAdjust="spacingAndGlyphs">in</text>
<text x="223.76" y="331.9" font-size="19.5" textLength="100.64" lengthAdjust="spacingAndGlyphs">plagioclase</text>
</g>
<text stroke-width="0.15" x="330.95" y="332.5" font-size="17" textLength="190.41" lengthAdjust="spacingAndGlyphs">(30x30 <tspan font-family="Liberation Serif, serif" dy="0.6">μ</tspan><tspan dy="-0.6">m, 2048 scans)</tspan></text>
<g stroke-width="0.1">
<text x="178.46" y="354.2" font-size="19.5" textLength="20.83" lengthAdjust="spacingAndGlyphs">MI</text>
<text x="203.84" y="354.2" font-size="19.5" textLength="15.90" lengthAdjust="spacingAndGlyphs">in</text>
<text x="224.24" y="354.2" font-size="19.5" textLength="133.89" lengthAdjust="spacingAndGlyphs">orthopyroxene</text>
</g>
<text stroke-width="0.15" x="367.76" y="354.8" font-size="17" textLength="189.00" lengthAdjust="spacingAndGlyphs">(20x20 <tspan font-family="Liberation Serif, serif" dy="0.6">μ</tspan><tspan dy="-0.6">m, 1500 scans)</tspan></text>
</g>
</svg>
</body></html>
